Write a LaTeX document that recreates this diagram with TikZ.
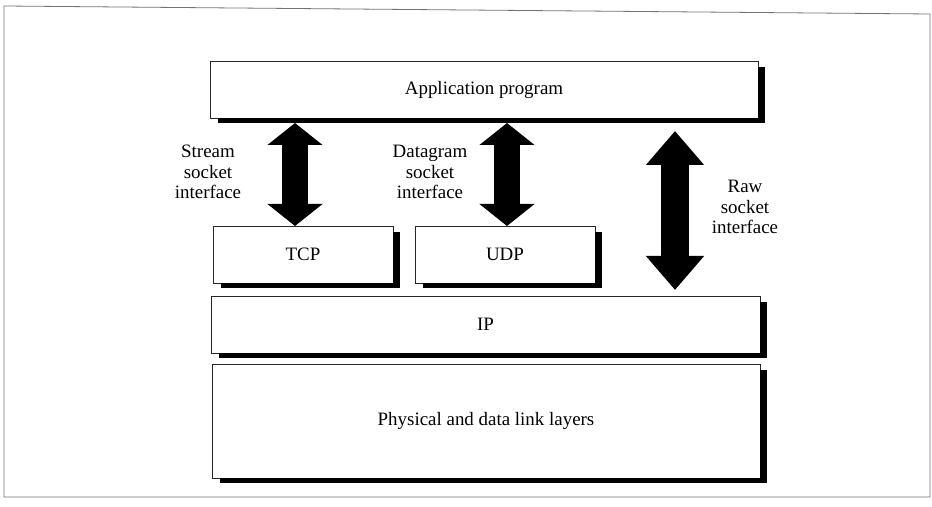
\documentclass[tikz,border=0pt]{standalone}
\usepackage{fontspec}
\setmainfont{Liberation Serif}
\usetikzlibrary{arrows.meta,calc}
\newcommand\layershadow[1]{%
  \fill[black] ($(#1.south west)+(8,0)$) rectangle ($(#1.south east)+(7,5)$);
  \fill[black] ($(#1.north east)+(0,6)$) rectangle ($(#1.south east)+(7,5)$);
}
\begin{document}
\begin{tikzpicture}[x=1bp,y=-1bp,
  layer/.style={draw=black!85, line width=0.8bp, fill=white, anchor=north west,
    inner sep=0pt, outer sep=0pt, font=\fontsize{19}{20.5}\selectfont},
  lbl/.style={align=center, font=\fontsize{19}{20.5}\selectfont, inner sep=0pt},
  bigarrow/.style={line width=26bp,
    {Triangle[width=54bp,length=22bp]}-{Triangle[width=54bp,length=22bp]}},
  rawarrow/.style={line width=28bp,
    {Triangle[width=56bp,length=34bp]}-{Triangle[width=56bp,length=34bp]}},
  frame/.style={draw=black!55, line width=0.8bp}
]
\useasboundingbox (0,0) rectangle (932,507);
\draw[frame] (930,497) -- (4,497) -- (4,6) -- (930,14) -- cycle;

\node[layer, minimum width=548bp, minimum height=57bp] (app) at (210,61) {Application program};
\node[layer, minimum width=180bp, minimum height=57bp] (tcp) at (213,226) {TCP};
\node[layer, minimum width=180bp, minimum height=57bp] (udp) at (415,226) {UDP};
\node[layer, minimum width=549bp, minimum height=57bp] (ip) at (211,296) {IP};
\node[layer, minimum width=548bp, minimum height=114bp] (phy) at (212,364) {Physical and data link layers};

\layershadow{app}
\layershadow{tcp}
\layershadow{udp}
\layershadow{ip}
\layershadow{phy}

\coordinate (rawx) at (675,0);

\draw[bigarrow] ($(tcp.north |- app.south)+(-8,5)$) -- ($(tcp.north)+(-8,0)$);
\draw[bigarrow] ($(udp.north |- app.south)+(2,5)$) -- ($(udp.north)+(2,0)$);
\draw[rawarrow] ($(rawx |- app.south)+(0,13)$) -- ($(rawx |- ip.north)+(0,-6)$);

\node[lbl] (stream) at (208,172) {Stream\\socket\\interface};
\node[lbl] (dgram) at (430,172) {Datagram\\socket\\interface};
\node[lbl] (raw) at (745,207) {Raw\\socket\\interface};
\end{tikzpicture}
\end{document}
